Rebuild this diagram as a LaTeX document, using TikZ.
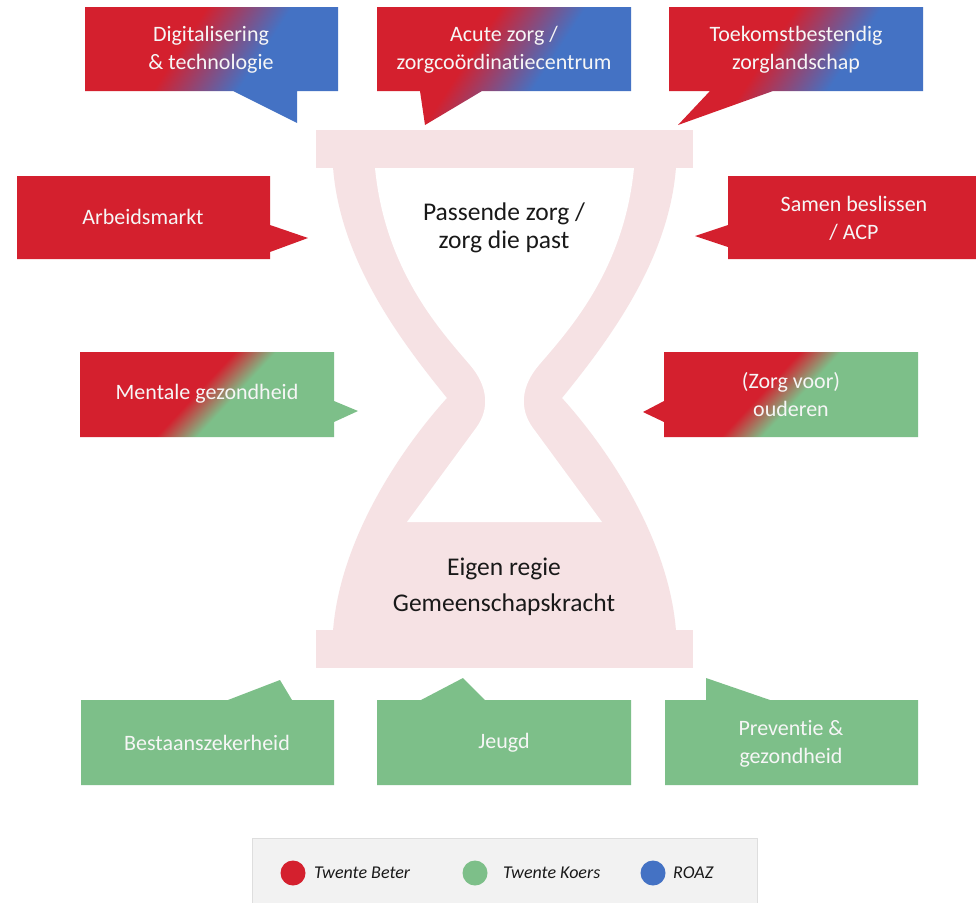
\documentclass[tikz,border=0pt]{standalone}
\usepackage{fontspec}
\setmainfont{Carlito}[RawFeature={-liga;-clig;-calt;-dlig}]
\definecolor{cred}{RGB}{212,32,46}
\definecolor{cblue}{RGB}{68,114,196}
\definecolor{cgreen}{RGB}{125,191,137}
\definecolor{hpink}{RGB}{246,226,228}
\definecolor{calltext}{RGB}{246,246,246}
\definecolor{htxt}{RGB}{25,25,25}
\definecolor{legfill}{RGB}{242,242,242}
\definecolor{legline}{RGB}{222,222,222}
\pgfdeclarehorizontalshading{rbshade}{100bp}{color(0bp)=(cred); color(44bp)=(cred); color(56bp)=(cblue); color(100bp)=(cblue)}
\pgfdeclarehorizontalshading{rgshade}{100bp}{color(0bp)=(cred); color(47.5bp)=(cred); color(52.5bp)=(cgreen); color(100bp)=(cgreen)}
\begin{document}
\begin{tikzpicture}[x=1pt,y=-1pt,
  ctext/.style={text=calltext, align=center, inner sep=0pt, font=\fontsize{22}{28}\selectfont},
  htext/.style={text=htxt, align=center, inner sep=0pt, font=\fontsize{25.5}{28}\selectfont},
  ltext/.style={text=htxt, anchor=west, inner sep=0pt, font=\fontsize{18}{22}\selectfont\itshape},
  ldot/.style={circle, minimum size=25pt, inner sep=0pt}]
\useasboundingbox (0,0) rectangle (976,902);
\fill[white] (0,0) rectangle (976,902);

% ---------------- hourglass ----------------
\fill[hpink] (316,130) rectangle (693,168);
\fill[hpink] (316,630) rectangle (693,668);
\fill[hpink] (333,167) .. controls (340,260) and (400,340) .. (447,398)
   .. controls (400,450) and (340,540) .. (333,631) -- (676,631)
   .. controls (669,540) and (609,450) .. (562,398)
   .. controls (609,340) and (669,260) .. (676,167) -- cycle;
\fill[white] (375,168) .. controls (385,270) and (440,330) .. (470,365)
   .. controls (488,386) and (490,409) .. (476,428) -- (407,522) -- (602,522)
   -- (533,428) .. controls (519,409) and (521,386) .. (539,365)
   .. controls (569,330) and (624,270) .. (634,168) -- cycle;
\node[htext] (passende) at (504,228) {Passende zorg /\\zorg die past};
\node[htext] (eigen) at (504,587) {Eigen regie\\[8pt]Gemeenschapskracht};

% ---------------- top callouts (red to blue) ----------------
\begin{scope}
\clip (85,7) -- (338,7) -- (338,91) -- (297,91) -- (297,123) -- (233,91) -- (85,91) -- cycle;
\shade[shading=rbshade, shading angle=-33] (72,-101) rectangle (372,199);
\end{scope}
\begin{scope}
\clip (377,7) -- (631,7) -- (631,91) -- (482,91) -- (425,125) -- (420,91) -- (377,91) -- cycle;
\shade[shading=rbshade, shading angle=-33] (366,-101) rectangle (666,199);
\end{scope}
\begin{scope}
\clip (669,7) -- (923,7) -- (923,91) -- (773,91) -- (678,125) -- (710,91) -- (669,91) -- cycle;
\shade[shading=rbshade, shading angle=-33] (662,-101) rectangle (962,199);
\end{scope}
\node[ctext] (digi) at (211,50) {Digitalisering\\\& technologie};
\node[ctext] (acute) at (504,50) {Acute zorg /\\zorgcoördinatiecentrum};
\node[ctext] (toekomst) at (796,50) {Toekomstbestendig\\zorglandschap};

% ---------------- red callouts ----------------
\fill[cred] (17,176) -- (270,176) -- (270,225) -- (308,238) -- (270,252) -- (270,259) -- (17,259) -- cycle;
\fill[cred] (728,176) -- (976,176) -- (976,259) -- (728,259) -- (728,247) -- (695,236) -- (728,225) -- cycle;
\node[ctext] (arbeid) at (143,217) {Arbeidsmarkt};
\node[ctext] (samen) at (854,218) {Samen beslissen\\/ ACP};

% ---------------- red to green callouts ----------------
\begin{scope}
\clip (80,352) -- (334,352) -- (334,401) -- (358,411) -- (334,422) -- (334,437) -- (80,437) -- cycle;
\shade[shading=rgshade, shading angle=-43] (66,244) rectangle (366,544);
\end{scope}
\begin{scope}
\clip (664,352) -- (918,352) -- (918,437) -- (664,437) -- (664,422) -- (643,412) -- (664,401) -- cycle;
\shade[shading=rgshade, shading angle=-43] (631,244) rectangle (931,544);
\end{scope}
\node[ctext] (mentale) at (207,394) {Mentale gezondheid};
\node[ctext] (ouderen) at (791,395) {(Zorg voor)\\ouderen};

% ---------------- green callouts ----------------
\fill[cgreen] (81,700) -- (228,700) -- (280,680) -- (292,700) -- (334,700) -- (334,785) -- (81,785) -- cycle;
\fill[cgreen] (377,700) -- (421,700) -- (463,678) -- (485,700) -- (631,700) -- (631,785) -- (377,785) -- cycle;
\fill[cgreen] (665,700) -- (706,700) -- (706,678) -- (770,700) -- (918,700) -- (918,785) -- (665,785) -- cycle;
\node[ctext] (bestaan) at (207,743) {Bestaanszekerheid};
\node[ctext] (jeugd) at (504,743) {Jeugd};
\node[ctext] (preventie) at (791,744) {Preventie \&\\gezondheid};

% ---------------- legend ----------------
\draw[legline, fill=legfill] (252,838) rectangle (757,905);
\node[ldot, fill=cred] (dotTB) at (293,873) {};
\node[ltext] (lTB) at (314,873) {Twente Beter};
\node[ldot, fill=cgreen] (dotTK) at (475,873) {};
\node[ltext] (lTK) at (503,873) {Twente Koers};
\node[ldot, fill=cblue] (dotR) at (653,873) {};
\node[ltext] (lR) at (673,873) {ROAZ};
\end{tikzpicture}
\end{document}
